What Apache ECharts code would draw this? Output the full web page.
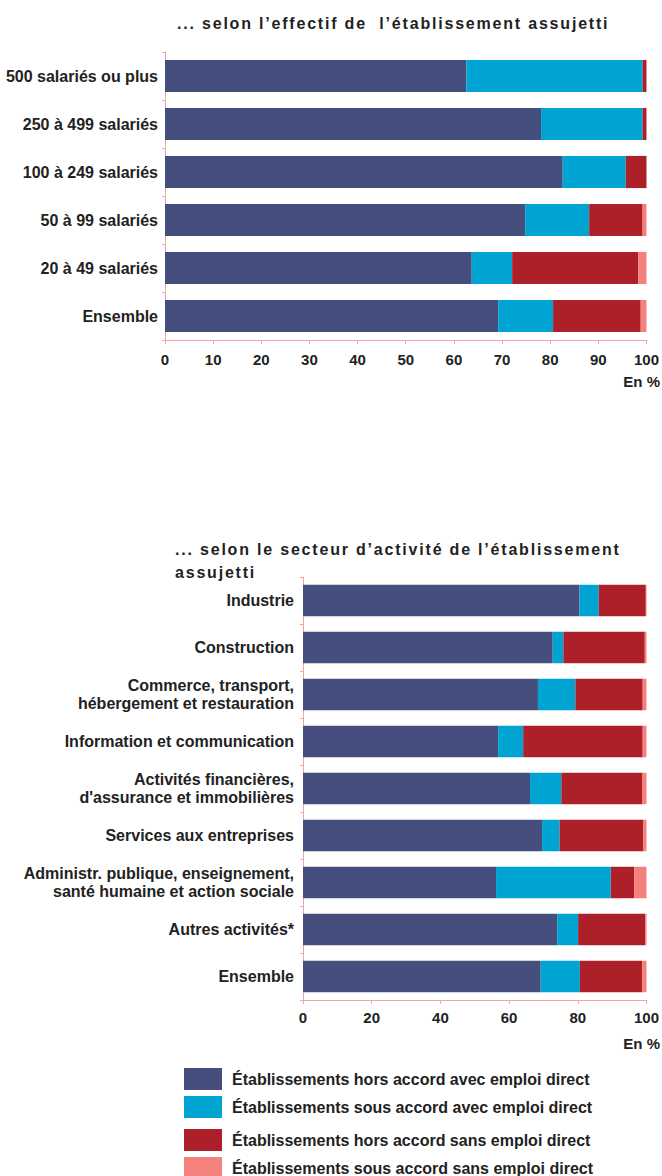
<!DOCTYPE html>
<html><head><meta charset="utf-8">
<script src="https://cdn.jsdelivr.net/npm/echarts@6/dist/echarts.min.js"></script>
<style>html,body{margin:0;padding:0;background:#fff}#c{width:662px;height:1176px}</style>
</head><body><div id="c"></div>
<script>
const seriesNames = [
  "Établissements hors accord avec emploi direct",
  "Établissements sous accord avec emploi direct",
  "Établissements hors accord sans emploi direct",
  "Établissements sous accord sans emploi direct"
];
const colors = ["#464e7e", "#00a4d3", "#ae2029", "#f4817c"];

const sizeCategories = ["500 salariés ou plus", "250 à 499 salariés", "100 à 249 salariés", "50 à 99 salariés", "20 à 49 salariés", "Ensemble"];
const sizeHorsAvec = [62.6, 78.1, 82.6, 74.8, 63.7, 69.2];
const sizeSousAvec = [36.6, 21.1, 13.1, 13.3, 8.4, 11.4];
const sizeHorsSans = [0.8, 0.8, 4.3, 11.1, 26.2, 18.2];
const sizeSousSans = [0.0, 0.0, 0.0, 0.8, 1.7, 1.2];

const sectorCategories = ["Industrie", "Construction", "Commerce, transport,\nhébergement et restauration", "Information et communication", "Activités financières,\nd'assurance et immobilières", "Services aux entreprises", "Administr. publique, enseignement,\nsanté humaine et action sociale", "Autres activités*", "Ensemble"];
const sectorHorsAvec = [80.5, 72.7, 68.4, 56.8, 66.1, 69.6, 56.2, 74.0, 69.2];
const sectorSousAvec = [5.6, 3.1, 10.9, 7.3, 9.1, 5.1, 33.4, 6.1, 11.4];
const sectorHorsSans = [13.7, 23.7, 19.6, 34.8, 23.5, 24.4, 6.8, 19.5, 18.2];
const sectorSousSans = [0.2, 0.5, 1.1, 1.1, 1.3, 0.9, 3.6, 0.4, 1.2];

const title1 = "... selon l’effectif de  l’établissement assujetti";
const title2 = "... selon le secteur d’activité de l’établissement\nassujetti";
const unitLabel = "En %";

const FONT = "Liberation Sans";
const axisColor = "#f4a3a3";
const txtColor = "#222";

const sizeData = [sizeHorsAvec, sizeSousAvec, sizeHorsSans, sizeSousSans];
const sectorData = [sectorHorsAvec, sectorSousAvec, sectorHorsSans, sectorSousSans];

function mkSeries(data, idx) {
  return data.map((d, i) => ({
    name: seriesNames[i], type: 'bar', stack: 'g' + idx,
    xAxisIndex: idx, yAxisIndex: idx,
    data: d, barCategoryGap: '33%',
    itemStyle: { color: colors[i] },
    emphasis: { disabled: true }
  }));
}

function xAx(idx, interval, margin) {
  return {
    gridIndex: idx, type: 'value', min: 0, max: 100, interval: interval,
    axisLine: { show: true, lineStyle: { color: axisColor, width: 1 } },
    axisTick: { show: true, length: 4, lineStyle: { color: axisColor } },
    splitLine: { show: false },
    axisLabel: { color: txtColor, fontFamily: FONT, fontWeight: 'bold', fontSize: 15, margin: margin }
  };
}
function yAx(idx, cats, margin) {
  return {
    gridIndex: idx, type: 'category', data: cats, inverse: true,
    axisLine: { show: true, lineStyle: { color: axisColor, width: 1 } },
    axisTick: { show: true, length: 3, lineStyle: { color: axisColor } },
    axisLabel: { color: txtColor, fontFamily: FONT, fontWeight: 'bold', fontSize: 16, margin: margin, lineHeight: 18, align: 'right' }
  };
}

const chart = echarts.init(document.getElementById('c'), null, { renderer: 'svg' });
const legendCommon = {
  orient: 'vertical', left: 184, itemWidth: 38, itemHeight: 22, itemGap: 6, padding: 0, height: 60,
  icon: 'rect', selectedMode: false,
  textStyle: { color: txtColor, fontFamily: FONT, fontWeight: 'bold', fontSize: 16, padding: [0, 0, 0, 5] }
};
const titleStyle = { fontFamily: FONT, fontWeight: 'bold', fontSize: 16, color: txtColor, lineHeight: 23 };
chart.setOption({
  animation: false,
  textStyle: { fontFamily: FONT },
  title: [
    { text: title1, left: 177, top: 12, padding: 0, textStyle: titleStyle },
    { text: title2, left: 175, top: 538, padding: 0, textStyle: titleStyle },
    { text: unitLabel, right: 2, top: 374, padding: 0, textStyle: { fontFamily: FONT, fontWeight: 'bold', fontSize: 15, color: txtColor } },
    { text: unitLabel, right: 2, top: 1036, padding: 0, textStyle: { fontFamily: FONT, fontWeight: 'bold', fontSize: 15, color: txtColor } }
  ],
  legend: [
    Object.assign({}, legendCommon, { top: 1068, data: [seriesNames[0], seriesNames[1]] }),
    Object.assign({}, legendCommon, { top: 1129, data: [seriesNames[2], seriesNames[3]] })
  ],
  grid: [
    { left: 165, right: 13, top: 52, height: 288 },
    { left: 303, right: 15, top: 577, height: 423 }
  ],
  xAxis: [xAx(0, 10, 12), xAx(1, 20, 10)],
  yAxis: [yAx(0, sizeCategories, 7), yAx(1, sectorCategories, 9)],
  series: mkSeries(sizeData, 0).concat(mkSeries(sectorData, 1))
});
// widen the letter spacing of the two headings, as in the reference
function spaceTitles() {
  document.querySelectorAll('#c text').forEach(t => {
    const s = t.textContent || '';
    if (s.indexOf('... selon') === 0 || s === 'assujetti') {
      t.style.letterSpacing = '1.8px';
    }
  });
}
spaceTitles();
chart.on('finished', spaceTitles);
</script>
</body></html>
